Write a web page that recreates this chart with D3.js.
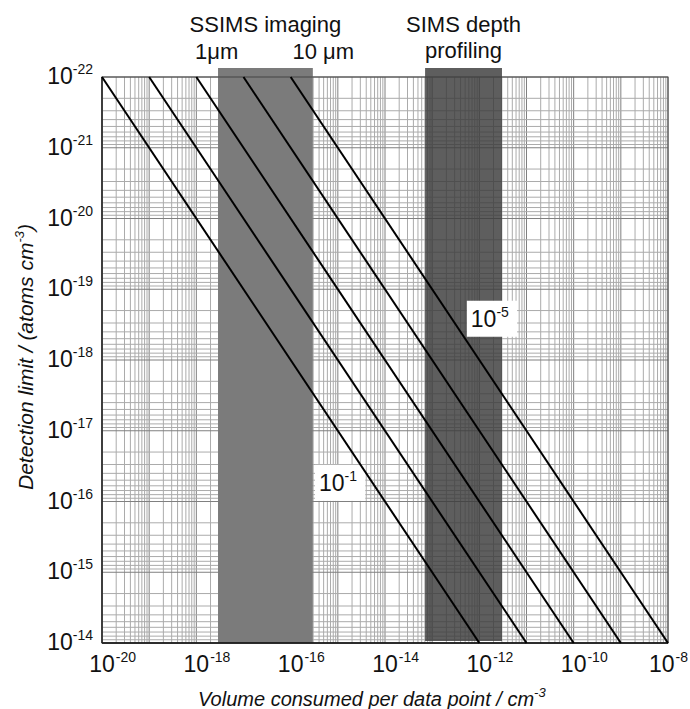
<!DOCTYPE html>
<html><head><meta charset="utf-8">
<script src="https://cdn.jsdelivr.net/npm/d3@7"></script>
<style>
body{margin:0;background:#fff}
svg{display:block}
text{font-family:"Liberation Sans",Arial,Helvetica,sans-serif;fill:#111}
</style>
</head><body>
<svg id="chart" width="690" height="709"></svg>
<script>
// ---- data ----
const xDomain = [1e-20, 1e-8];
const yDomain = [1e-22, 1e-14];
const xTickExps = [-20, -18, -16, -14, -12, -10, -8];
const yTickExps = [-22, -21, -20, -19, -18, -17, -16, -15, -14];
const xDecades = [-20, -19, -18, -17, -16, -15, -14, -13, -12, -11, -10, -9];
const yDecades = [-22, -21, -20, -19, -18, -17, -16, -15];
const gridMultipliers = [1, 2, 3, 4, 5, 6, 7, 8, 9];

const lineStartX = [1e-20, 1e-19, 1e-18, 1e-17, 1e-16];
const lineEndX   = [1e-12, 1e-11, 1e-10, 1e-9, 1e-8];
const lineStartY = 1e-22;
const lineEndY   = 1e-14;

const bandNames = ["SSIMS imaging", "SIMS depth profiling"];
const bandStart = [Math.pow(10, -17.54), Math.pow(10, -13.15)];
const bandEnd   = [Math.pow(10, -15.53), Math.pow(10, -11.52)];

const sizeLabels = ["1\u03bcm", "10 \u03bcm"];
const sizeLabelX = [Math.pow(10, -17.57), Math.pow(10, -15.31)];

const lineLabelBase = ["10", "10"];
const lineLabelSup  = ["-1", "-5"];
const lineLabelX = [Math.pow(10, -15.40), Math.pow(10, -12.18)];
const lineLabelY = [Math.pow(10, -16.15), Math.pow(10, -18.47)];

// ---- layout ----
const W = 690;
const L = 102, R = 668, T = 77, B = 643;
const svg = d3.select("#chart");
const x = d3.scaleLog().domain(xDomain).range([L, R]);
const y = d3.scaleLog().domain(yDomain).range([T, B]);

// grid
const g = svg.append("g");
const xGrid = [];
xDecades.forEach(e => gridMultipliers.forEach(m => xGrid.push({v: m * Math.pow(10, e), major: m === 1})));
xGrid.push({v: 1e-8, major: true});
const yGrid = [];
yDecades.forEach(e => gridMultipliers.forEach(m => yGrid.push({v: m * Math.pow(10, e), major: m === 1})));
yGrid.push({v: 1e-14, major: true});

g.selectAll(".vg").data(xGrid).enter().append("line")
  .attr("x1", d => x(d.v)).attr("x2", d => x(d.v))
  .attr("y1", T).attr("y2", B)
  .attr("stroke", d => d.major ? "#808080" : "#ababab").attr("stroke-width", 1);
g.selectAll(".hg").data(yGrid).enter().append("line")
  .attr("y1", d => y(d.v)).attr("y2", d => y(d.v))
  .attr("x1", L).attr("x2", R)
  .attr("stroke", d => d.major ? "#808080" : "#ababab").attr("stroke-width", 1);

// bands
svg.append("rect")
  .attr("x", x(bandStart[0])).attr("width", x(bandEnd[0]) - x(bandStart[0]))
  .attr("y", T - 9).attr("height", B - T + 9)
  .attr("fill", "#7b7b7b");
svg.append("rect")
  .attr("x", x(bandStart[1])).attr("width", x(bandEnd[1]) - x(bandStart[1]))
  .attr("y", T - 9).attr("height", B - T + 7)
  .attr("fill", "#3a3a3a").attr("fill-opacity", 0.82);

// frame
svg.append("rect").attr("x", L).attr("y", T).attr("width", R - L).attr("height", B - T)
  .attr("fill", "none").attr("stroke", "#444").attr("stroke-width", 1);
svg.append("line").attr("x1", L).attr("x2", R).attr("y1", B).attr("y2", B)
  .attr("stroke", "#111").attr("stroke-width", 1.6);
svg.append("line").attr("x1", L).attr("x2", L).attr("y1", T).attr("y2", B)
  .attr("stroke", "#222").attr("stroke-width", 1.4);

// line labels (white boxes)
lineLabelBase.forEach((b, i) => {
  const t = svg.append("text").attr("x", x(lineLabelX[i])).attr("y", y(lineLabelY[i]))
    .attr("font-size", 23);
  t.append("tspan").text(b);
  t.append("tspan").attr("font-size", 14).attr("dy", -10).text(lineLabelSup[i]);
  const bb = t.node().getBBox();
  svg.insert("rect", "text").attr("x", bb.x - 4).attr("y", bb.y - 3)
    .attr("width", bb.width + 12).attr("height", bb.height + 8).attr("fill", "#fff");
});

// diagonal lines
svg.selectAll(".dl").data(lineStartX).enter().append("line")
  .attr("x1", d => x(d)).attr("y1", y(lineStartY))
  .attr("x2", (d, i) => x(lineEndX[i])).attr("y2", y(lineEndY))
  .attr("stroke", "#000").attr("stroke-width", 2);

// x tick labels
xTickExps.forEach(e => {
  const px = x(Math.pow(10, e));
  const base = svg.append("text").attr("x", px).attr("y", 672).attr("font-size", 23)
    .attr("text-anchor", "middle").text("10");
  const w = base.node().getComputedTextLength();
  const sup = svg.append("text").attr("x", px + w / 2 + 1).attr("y", 662).attr("font-size", 14).text(String(e));
  const supEnd = px + w / 2 + 1 + sup.node().getComputedTextLength();
  const over = supEnd - (W - 2);
  if (over > 0) {
    base.attr("x", px - over);
    sup.attr("x", px + w / 2 + 1 - over);
  }
});

// y tick labels
yTickExps.forEach(e => {
  const py = y(Math.pow(10, e));
  const t = svg.append("text").attr("x", 93).attr("y", py + 7).attr("font-size", 23)
    .attr("text-anchor", "end");
  t.append("tspan").text("10");
  t.append("tspan").attr("font-size", 14).attr("dy", -10).text(String(e));
});

// band titles
svg.append("text").attr("x", (x(bandStart[0]) + x(bandEnd[0])) / 2).attr("y", 32)
  .attr("text-anchor", "middle").attr("font-size", 22).text(bandNames[0]);
svg.append("text").attr("x", (x(bandStart[1]) + x(bandEnd[1])) / 2).attr("y", 32)
  .attr("text-anchor", "middle").attr("font-size", 22).text("SIMS depth");
svg.append("text").attr("x", (x(bandStart[1]) + x(bandEnd[1])) / 2).attr("y", 58)
  .attr("text-anchor", "middle").attr("font-size", 22).text("profiling");
sizeLabels.forEach((s, i) => {
  svg.append("text").attr("x", x(sizeLabelX[i])).attr("y", 59)
    .attr("text-anchor", "middle").attr("font-size", 22).text(s);
});

// axis titles
const xt = svg.append("text").attr("x", 198).attr("y", 706).attr("font-size", 20)
  .attr("font-style", "italic");
xt.append("tspan").text("Volume consumed per data point / cm");
xt.append("tspan").attr("font-size", 13).attr("dy", -9).text("-3");

const yt = svg.append("text").attr("transform", "translate(33,490) rotate(-90)")
  .attr("font-size", 21).attr("font-style", "italic");
yt.append("tspan").text("Detection limit / (atoms cm");
yt.append("tspan").attr("font-size", 13).attr("dy", -9).text("-3");
yt.append("tspan").attr("dy", 9).text(")");
</script>
</body></html>
